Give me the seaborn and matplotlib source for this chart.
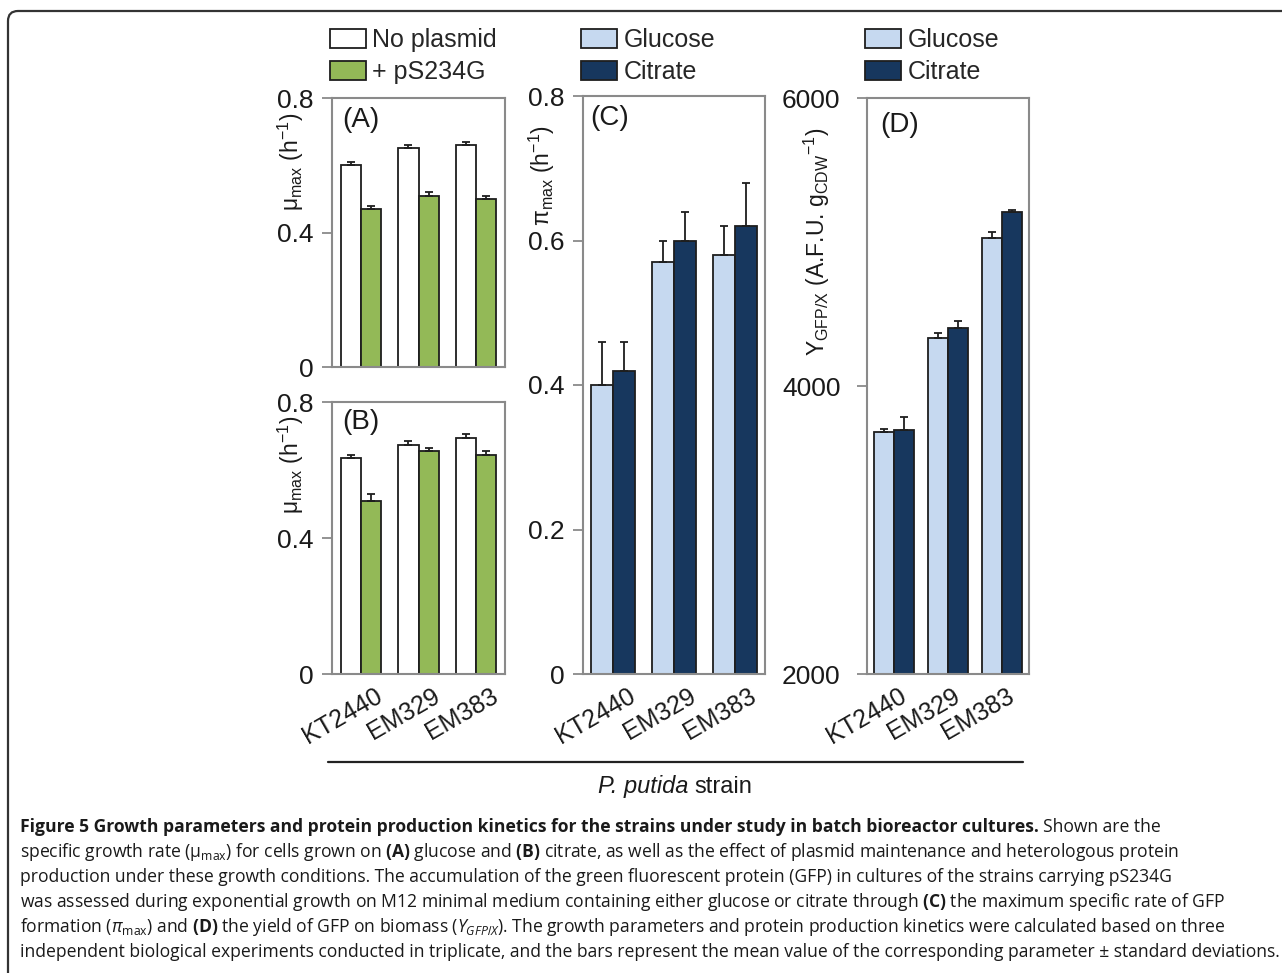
import numpy as np
import pandas as pd
import matplotlib
matplotlib.use("Agg")
import matplotlib.pyplot as plt
import seaborn as sns
from matplotlib import font_manager as fm
from matplotlib.patches import Patch
from matplotlib.lines import Line2D
import matplotlib.path as mpath
import matplotlib.patches as mpatches
from matplotlib.transforms import ScaledTranslation

# ---------------- data ----------------
strains = ["KT2440", "EM329", "EM383"]
plasmid_levels = ["No plasmid", "+ pS234G"]
carbon_levels = ["Glucose", "Citrate"]

# (A) mu_max on glucose
a_noplasmid = [0.60, 0.65, 0.66]
a_noplasmid_sd = [0.010, 0.010, 0.010]
a_ps234g = [0.47, 0.51, 0.50]
a_ps234g_sd = [0.010, 0.010, 0.010]
# (B) mu_max on citrate
b_noplasmid = [0.635, 0.675, 0.695]
b_noplasmid_sd = [0.010, 0.010, 0.010]
b_ps234g = [0.51, 0.655, 0.645]
b_ps234g_sd = [0.020, 0.010, 0.010]
# (C) pi_max
c_glucose = [0.40, 0.57, 0.58]
c_glucose_sd = [0.06, 0.03, 0.04]
c_citrate = [0.42, 0.60, 0.62]
c_citrate_sd = [0.04, 0.04, 0.06]
# (D) Y_GFP/X
d_glucose = [3680, 4330, 5030]
d_glucose_sd = [20, 40, 40]
d_citrate = [3695, 4400, 5210]
d_citrate_sd = [90, 50, 15]

plasmid_colors = ["#ffffff", "#93b957"]
carbon_colors = ["#c6d9f0", "#17375e"]


def has_font(name):
    try:
        fm.findfont(fm.FontProperties(family=name), fallback_to_default=False)
        return True
    except Exception:
        return False


cap_family = "Liberation Sans Narrow" if has_font("Liberation Sans Narrow") else "Open Sans"

# ---------------- style ----------------
sns.set_style("white")
plt.rcParams["font.family"] = ["Liberation Sans", "DejaVu Sans"]
plt.rcParams["mathtext.fontset"] = "custom"
plt.rcParams["mathtext.rm"] = "Liberation Sans"
plt.rcParams["mathtext.it"] = cap_family + ":italic"
plt.rcParams["mathtext.bf"] = cap_family + ":bold"

W, H = 1282, 973
fig = plt.figure(figsize=(W / 100, H / 100), dpi=100)
fig.patch.set_facecolor("white")


def fx(px):
    return px / W


def fy(py):
    return 1 - py / H


def add_ax(left, right, top, bottom):
    return fig.add_axes([fx(left), fy(bottom), (right - left) / W, (bottom - top) / H])


EDGE = "#1e1e1e"
SPINE = "#8a8a8a"
TXT = "#1a1a1a"


def panel(ax, v1, s1, v2, s2, levels, colors, width):
    df = pd.DataFrame({
        "strain": strains * 2,
        "cond": [levels[0]] * 3 + [levels[1]] * 3,
        "val": list(v1) + list(v2),
    })
    sns.barplot(data=df, x="strain", y="val", hue="cond", order=strains, hue_order=levels,
                palette=dict(zip(levels, colors)), saturation=1, width=width,
                edgecolor=EDGE, linewidth=1.3, errorbar=None, legend=False, ax=ax)
    for cont, sds in zip(ax.containers, [s1, s2]):
        xs = [b.get_x() + b.get_width() / 2 for b in cont]
        ys = [b.get_height() for b in cont]
        ax.errorbar(xs, ys, yerr=[np.zeros(len(sds)), sds], fmt="none", ecolor=EDGE,
                    elinewidth=1.3, capsize=3, capthick=1.3, zorder=3)


def style(ax, yticks, ylabels, ylim, xlabels=True, ypad=6, xoff=14):
    ax.set_xlim(-0.5, 2.5)
    ax.set_ylim(*ylim)
    ax.set_yticks(yticks)
    ax.set_yticklabels(ylabels)
    for s in ax.spines.values():
        s.set_visible(True)
        s.set_color(SPINE)
        s.set_linewidth(1.5)
    ax.tick_params(axis="y", direction="out", length=7, width=1.3, color=SPINE,
                   labelsize=19, pad=ypad, labelcolor=TXT, left=True)
    ax.tick_params(axis="x", length=0, pad=7)
    ax.set_xlabel("")
    ax.set_xticks(range(3))
    if xlabels:
        ax.set_xticklabels(strains, rotation=30, ha="right", rotation_mode="anchor",
                           fontsize=18, color=TXT)
        off = ScaledTranslation(xoff / 100, 0, fig.dpi_scale_trans)
        for lab in ax.get_xticklabels():
            lab.set_transform(lab.get_transform() + off)
    else:
        ax.set_xticklabels([])


mu_label = "μ$_{\\mathregular{max}}$ (h$^{\\mathregular{-1}}$)"
pi_label = "π$_{\\mathregular{max}}$ (h$^{\\mathregular{-1}}$)"
y_label = "Y$_{\\mathregular{GFP/X}}$ (A.F.U. g$_{\\mathregular{CDW}}$$^{\\mathregular{-1}}$)"

# (A)
axA = add_ax(332, 505, 98, 367)
panel(axA, a_noplasmid, a_noplasmid_sd, a_ps234g, a_ps234g_sd, plasmid_levels, plasmid_colors, 0.7)
style(axA, [0, 0.4, 0.8], ["0", "0.4", "0.8"], (0, 0.8), xlabels=False)
axA.set_ylabel(mu_label, fontsize=16.5, color=TXT)
axA.yaxis.set_label_coords(-0.15, 0.762)
axA.text(0.06, 0.965, "(A)", transform=axA.transAxes, fontsize=20, va="top", ha="left", color=TXT)

# (B)
axB = add_ax(332, 505, 402, 674)
panel(axB, b_noplasmid, b_noplasmid_sd, b_ps234g, b_ps234g_sd, plasmid_levels, plasmid_colors, 0.7)
style(axB, [0, 0.4, 0.8], ["0", "0.4", "0.8"], (0, 0.8))
axB.set_ylabel(mu_label, fontsize=16.5, color=TXT)
axB.yaxis.set_label_coords(-0.15, 0.768)
axB.text(0.06, 0.975, "(B)", transform=axB.transAxes, fontsize=20, va="top", ha="left", color=TXT)

# (C)
axC = add_ax(583, 765, 96, 674)
panel(axC, c_glucose, c_glucose_sd, c_citrate, c_citrate_sd, carbon_levels, carbon_colors, 0.72)
style(axC, [0, 0.2, 0.4, 0.6, 0.8], ["0", "0.2", "0.4", "0.6", "0.8"], (0, 0.8))
axC.set_ylabel(pi_label, fontsize=16.5, color=TXT)
axC.yaxis.set_label_coords(-0.145, 0.863)
axC.text(0.04, 0.985, "(C)", transform=axC.transAxes, fontsize=20, va="top", ha="left", color=TXT)

# (D)
axD = add_ax(867, 1029, 98, 674)
panel(axD, d_glucose, d_glucose_sd, d_citrate, d_citrate_sd, carbon_levels, carbon_colors, 0.74)
style(axD, [2000, 4000, 6000], ["2000", "4000", "6000"], (2000, 6000), ypad=12, xoff=4)
axD.set_ylabel(y_label, fontsize=16.5, color=TXT)
axD.yaxis.set_label_coords(-0.216, 0.75)
axD.text(0.08, 0.975, "(D)", transform=axD.transAxes, fontsize=20, va="top", ha="left", color=TXT)


# ---------------- legends ----------------
def add_legend(x_px, labels, colors):
    handles = [Patch(facecolor=c, edgecolor=EDGE, linewidth=1.3) for c in colors]
    fig.legend(handles, labels, loc="upper left", bbox_to_anchor=(fx(x_px), fy(28)),
               bbox_transform=fig.transFigure, frameon=False, fontsize=18,
               handlelength=1.45, handleheight=0.8, handletextpad=0.25,
               labelspacing=0.32, borderpad=0, borderaxespad=0)


add_legend(330, plasmid_levels, plasmid_colors)
add_legend(581, carbon_levels, carbon_colors)
add_legend(865, carbon_levels, carbon_colors)

# ---------------- strain axis line and label ----------------
fig.add_artist(Line2D([fx(328), fx(1023)], [fy(762), fy(762)], color="#222222", lw=1.6))

renderer = fig.canvas.get_renderer()
tp1 = fig.text(0, fy(787), "P. putida", style="italic", fontsize=17, va="center", ha="left", color=TXT)
tp2 = fig.text(0, fy(787), "strain", fontsize=17, va="center", ha="left", color=TXT)
w1 = tp1.get_window_extent(renderer).width
w2 = tp2.get_window_extent(renderer).width
sp = 17 * 0.278 * 100 / 72
x0 = 675 - (w1 + sp + w2) / 2
tp1.set_x(fx(x0))
tp2.set_x(fx(x0 + w1 + sp))

# ---------------- frame ----------------
r = 10
verts = [(fx(8), fy(973)), (fx(8), fy(11 + r)), (fx(8), fy(11)), (fx(8 + r), fy(11)), (fx(1282), fy(11))]
codes = [mpath.Path.MOVETO, mpath.Path.LINETO, mpath.Path.CURVE3, mpath.Path.CURVE3, mpath.Path.LINETO]
fig.add_artist(mpatches.PathPatch(mpath.Path(verts, codes), fill=False, edgecolor="#333333",
                                  lw=1.6, transform=fig.transFigure))

# ---------------- caption ----------------
cap_font = [cap_family, "Open Sans", "DejaVu Sans"]
bold_head = "Figure 5 Growth parameters and protein production kinetics for the strains under study in batch bioreactor cultures."
lines = [
    "Shown are the",
    "specific growth rate (μ$_{\\mathregular{max}}$) for cells grown on $\\mathbf{(A)}$ glucose and $\\mathbf{(B)}$ citrate, as well as the effect of plasmid maintenance and heterologous protein",
    "production under these growth conditions. The accumulation of the green fluorescent protein (GFP) in cultures of the strains carrying pS234G",
    "was assessed during exponential growth on M12 minimal medium containing either glucose or citrate through $\\mathbf{(C)}$ the maximum specific rate of GFP",
    "formation ($\\mathit{π}_{\\mathregular{max}}$) and $\\mathbf{(D)}$ the yield of GFP on biomass ($\\mathit{Y_{GFP/X}}$). The growth parameters and protein production kinetics were calculated based on three",
    "independent biological experiments conducted in triplicate, and the bars represent the mean value of the corresponding parameter ± standard deviations.",
]
x_left = 20
target_right = 1273
probe = fig.text(0, 0, lines[-1], family=cap_font, fontsize=12)
wp = probe.get_window_extent(renderer).width
probe.remove()
cfs = 12 * (target_right - x_left) / wp

base_y = [832, 857, 882, 907, 932, 957]
th = fig.text(fx(x_left), fy(base_y[0]), bold_head, family=cap_font, fontsize=cfs,
              weight="bold", va="baseline", ha="left", color=TXT)
wb = th.get_window_extent(renderer).width
fig.text(fx(x_left + wb + cfs * 0.25 * 100 / 72), fy(base_y[0]), lines[0], family=cap_font,
         fontsize=cfs, va="baseline", ha="left", color=TXT)
for ln, yb in zip(lines[1:], base_y[1:]):
    fig.text(fx(x_left), fy(yb), ln, family=cap_font, fontsize=cfs, va="baseline", ha="left",
             color=TXT)

fig.savefig("out.png", dpi=100, facecolor="white")
